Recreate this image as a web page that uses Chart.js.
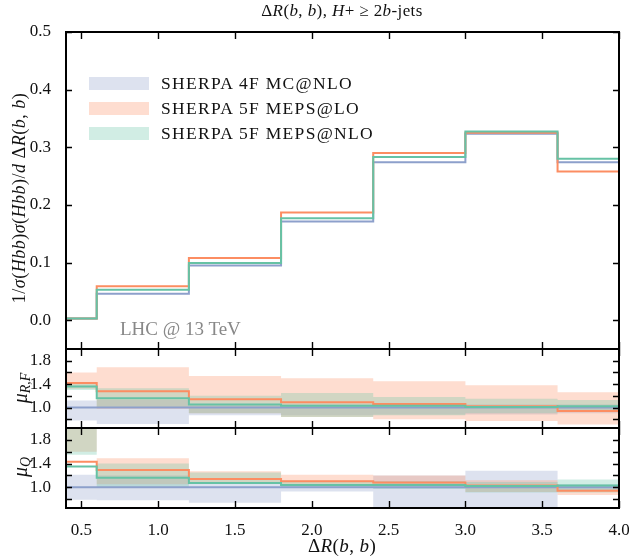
<!DOCTYPE html>
<html lang="en">
<head>
<meta charset="UTF-8" />
<title>Delta R(b,b) with ratio panels</title>
<script src="https://cdn.jsdelivr.net/npm/chart.js"></script>
<style>
  body { margin: 0; background: #fff; font-family: "Liberation Serif", serif; }
  #wrap { position: relative; width: 629px; height: 558px; overflow: hidden; }
  canvas { position: absolute; left: 0; }
  .txt { position: absolute; white-space: nowrap; color: #111; }
  .rot { transform: translate(-50%, -50%) rotate(-90deg); }
  .patch { position: absolute; width: 60px; height: 13px; }
  .leg { font-size: 17.5px; letter-spacing: 1.3px; }
  sub { font-size: 70%; vertical-align: -0.25em; line-height: 0; }
</style>
</head>
<body>
<div id="wrap">
  <canvas id="mainChart" width="629" height="360" style="top:0px"></canvas>
  <canvas id="rfChart" width="629" height="99" style="top:339px"></canvas>
  <canvas id="qChart" width="629" height="140" style="top:418px"></canvas>

  <div class="txt" style="left:342px; top:1px; transform:translateX(-50%); font-size:17px; letter-spacing:0.4px;">
    Δ<i>R</i>(<i>b</i>, <i>b</i>), <i>H</i>+ ≥ 2<i>b</i>-jets</div>
  <div class="txt rot" style="left:19px; top:198px; font-size:18px; letter-spacing:0.5px;">
    1/<i>σ</i>(<i>Hbb</i>)<i>σ</i>(<i>Hbb</i>)/<i>d</i> Δ<i>R</i>(<i>b</i>, <i>b</i>)</div>
  <div class="txt rot" style="left:20px; top:388px; font-size:20px;"><i>μ</i><sub><i>R,F</i></sub></div>
  <div class="txt rot" style="left:20px; top:467px; font-size:20px;"><i>μ</i><sub><i>Q</i></sub></div>
  <div class="txt" style="left:342px; top:535px; transform:translateX(-50%); font-size:19px; letter-spacing:0.4px;">
    Δ<i>R</i>(<i>b</i>, <i>b</i>)</div>
  <div class="txt" style="left:120px; top:318px; font-size:19px; color:#888;">LHC @ 13 TeV</div>

  <div class="patch" style="left:89px; top:77px; background:rgba(141,160,203,0.3)"></div>
  <div class="patch" style="left:89px; top:102px; background:rgba(252,141,98,0.3)"></div>
  <div class="patch" style="left:89px; top:127px; background:rgba(102,194,165,0.3)"></div>
  <div class="txt leg" style="left:161px; top:73px;">SHERPA 4F MC@NLO</div>
  <div class="txt leg" style="left:161px; top:98px;">SHERPA 5F MEPS@LO</div>
  <div class="txt leg" style="left:161px; top:123px;">SHERPA 5F MEPS@NLO</div>
</div>

<script>
// bins and tick positions
const binEdges = [0.4, 0.6, 1.2, 1.8, 2.4, 3.0, 3.6, 4.0];
const xTicks = [0.5, 1.0, 1.5, 2.0, 2.5, 3.0, 3.5, 4.0];
const mainTicks = [0.0, 0.1, 0.2, 0.3, 0.4, 0.5];
const ratioLabelTicks = [1.0, 1.4, 1.8];
const ratioTickMarks = [0.8, 1.0, 1.2, 1.4, 1.6, 1.8];

// main panel, normalised distributions
const main4F = [0.003, 0.046, 0.095, 0.171, 0.274, 0.3235, 0.274];
const main5FLO = [0.003, 0.059, 0.108, 0.187, 0.290, 0.325, 0.258];
const main5FNLO = [0.003, 0.053, 0.099, 0.177, 0.283, 0.3275, 0.280];

// mu_R,F panel: central ratios and bands
const rf4F = [1.0, 1.0, 1.0, 1.0, 1.0, 1.0, 1.0];
const rf5FLO = [1.42, 1.28, 1.14, 1.09, 1.06, 1.02, 0.94];
const rf5FNLO = [1.36, 1.16, 1.05, 1.03, 1.03, 1.01, 1.02];
const rf4FLo = [0.78, 0.72, 0.87, 0.87, 0.88, 0.88, 0.90];
const rf4FHi = [1.12, 1.13, 1.04, 1.05, 1.05, 1.05, 1.05];
const rf5FLOLo = [1.32, 0.98, 0.90, 0.84, 0.80, 0.77, 0.71];
const rf5FLOHi = [1.60, 1.69, 1.54, 1.50, 1.45, 1.38, 1.26];
const rf5FNLOLo = [1.30, 1.00, 0.90, 0.84, 0.87, 0.90, 0.93];
const rf5FNLOHi = [1.40, 1.33, 1.20, 1.25, 1.18, 1.15, 1.13];

// mu_Q panel: central ratios and bands
const q4F = [1.0, 1.0, 1.0, 1.0, 1.0, 1.0, 1.0];
const q5FLO = [1.43, 1.29, 1.14, 1.10, 1.08, 1.03, 0.94];
const q5FNLO = [1.35, 1.16, 1.07, 1.04, 1.04, 1.02, 1.03];
const q4FLo = [0.79, 0.78, 0.74, 0.93, 0.60, 0.60, 0.95];
const q4FHi = [1.21, 1.20, 1.08, 1.04, 1.20, 1.28, 1.05];
const q5FLOLo = [1.60, 1.05, 1.06, 1.03, 1.03, 0.92, 0.87];
const q5FLOHi = [2.30, 1.49, 1.27, 1.21, 1.20, 1.12, 0.98];
const q5FNLOLo = [1.55, 1.00, 1.08, 1.00, 0.97, 0.91, 0.91];
const q5FNLOHi = [2.30, 1.40, 1.25, 1.11, 1.10, 1.09, 1.13];

const blue = 'rgb(141,160,203)', orange = 'rgb(252,141,98)', green = 'rgb(102,194,165)';
const blueBand = 'rgba(141,160,203,0.3)', orangeBand = 'rgba(252,141,98,0.3)', greenBand = 'rgba(102,194,165,0.3)';

function stepPoints(vals) {
  const pts = [];
  vals.forEach((v, i) => { pts.push({x: binEdges[i], y: v}); pts.push({x: binEdges[i + 1], y: v}); });
  return pts;
}

function bandPoints(lo, hi) {
  const top = stepPoints(hi);
  const bottom = stepPoints(lo).reverse();
  return top.concat(bottom);
}

function stepLine(vals, color) {
  return { data: stepPoints(vals), borderColor: color, borderWidth: 2, pointRadius: 0, fill: false, tension: 0 };
}

function band(lo, hi, color) {
  return { data: bandPoints(lo, hi), borderWidth: 0, borderColor: 'rgba(0,0,0,0)', backgroundColor: color,
           pointRadius: 0, fill: 'shape', tension: 0 };
}

const framePlugin = {
  id: 'frame',
  afterDatasetsDraw(chart, args, opts) {
    const { ctx, chartArea: a, scales: { x, y } } = chart;
    ctx.save();
    ctx.strokeStyle = '#000';
    ctx.lineWidth = 1.4;
    ctx.beginPath();
    xTicks.forEach(v => {
      const px = Math.round(x.getPixelForValue(v)) + 0.5;
      ctx.moveTo(px, a.top); ctx.lineTo(px, a.top + 7);
      ctx.moveTo(px, a.bottom); ctx.lineTo(px, a.bottom - 7);
    });
    opts.marks.forEach(v => {
      const py = Math.round(y.getPixelForValue(v)) + 0.5;
      ctx.moveTo(a.left, py); ctx.lineTo(a.left + 6, py);
      ctx.moveTo(a.right, py); ctx.lineTo(a.right - 6, py);
    });
    ctx.stroke();
    ctx.lineWidth = 2;
    ctx.strokeRect(a.left, a.top, a.right - a.left, a.bottom - a.top);
    ctx.restore();
  }
};

// Chart.js paints dataset 0 last, so the lists below run from top layer to bottom layer
function makeChart(id, datasets, o) {
  return new Chart(document.getElementById(id), {
    type: 'line',
    data: { datasets: datasets },
    plugins: [framePlugin],
    options: {
      responsive: false,
      animation: false,
      layout: { padding: { top: o.padTop, bottom: o.padBottom, left: 0, right: 10 } },
      plugins: { legend: { display: false }, tooltip: { enabled: false }, frame: { marks: o.marks } },
      scales: {
        x: {
          type: 'linear', min: 0.4, max: 4.0, display: o.showX,
          afterBuildTicks: s => { s.ticks = xTicks.map(v => ({ value: v })); },
          afterFit: s => { s.height = o.showX ? 50 : 0; s.paddingLeft = 0; s.paddingRight = 0; },
          grid: { display: false }, border: { display: false },
          ticks: { padding: 4, color: '#111', font: { family: 'Liberation Serif', size: 17 },
                   callback: v => v.toFixed(1), maxRotation: 0 }
        },
        y: {
          type: 'linear', min: o.ymin, max: o.ymax,
          afterBuildTicks: s => { s.ticks = o.labels.map(v => ({ value: v })); },
          afterFit: s => { s.width = 66; s.paddingTop = 0; s.paddingBottom = 0; },
          grid: { display: false }, border: { display: false },
          ticks: { padding: 7, color: '#111', font: { family: 'Liberation Serif', size: 17 },
                   callback: v => v.toFixed(1) }
        }
      }
    }
  });
}

makeChart('mainChart', [
  stepLine(main5FNLO, green),
  stepLine(main5FLO, orange),
  stepLine(main4F, blue)
], { ymin: -0.05, ymax: 0.5, labels: mainTicks, marks: mainTicks, padTop: 32, padBottom: 11, showX: false });

makeChart('rfChart', [
  stepLine(rf5FNLO, green),
  stepLine(rf5FLO, orange),
  stepLine(rf4F, blue),
  band(rf5FNLOLo, rf5FNLOHi, greenBand),
  band(rf5FLOLo, rf5FLOHi, orangeBand),
  band(rf4FLo, rf4FHi, blueBand)
], { ymin: 0.65, ymax: 2.0, labels: ratioLabelTicks, marks: ratioTickMarks, padTop: 10, padBottom: 10, showX: false });

makeChart('qChart', [
  stepLine(q5FNLO, green),
  stepLine(q5FLO, orange),
  stepLine(q4F, blue),
  band(q5FNLOLo, q5FNLOHi, greenBand),
  band(q5FLOLo, q5FLOHi, orangeBand),
  band(q4FLo, q4FHi, blueBand)
], { ymin: 0.65, ymax: 2.0, labels: ratioLabelTicks, marks: ratioTickMarks, padTop: 10, padBottom: 0, showX: true });
</script>
</body>
</html>
